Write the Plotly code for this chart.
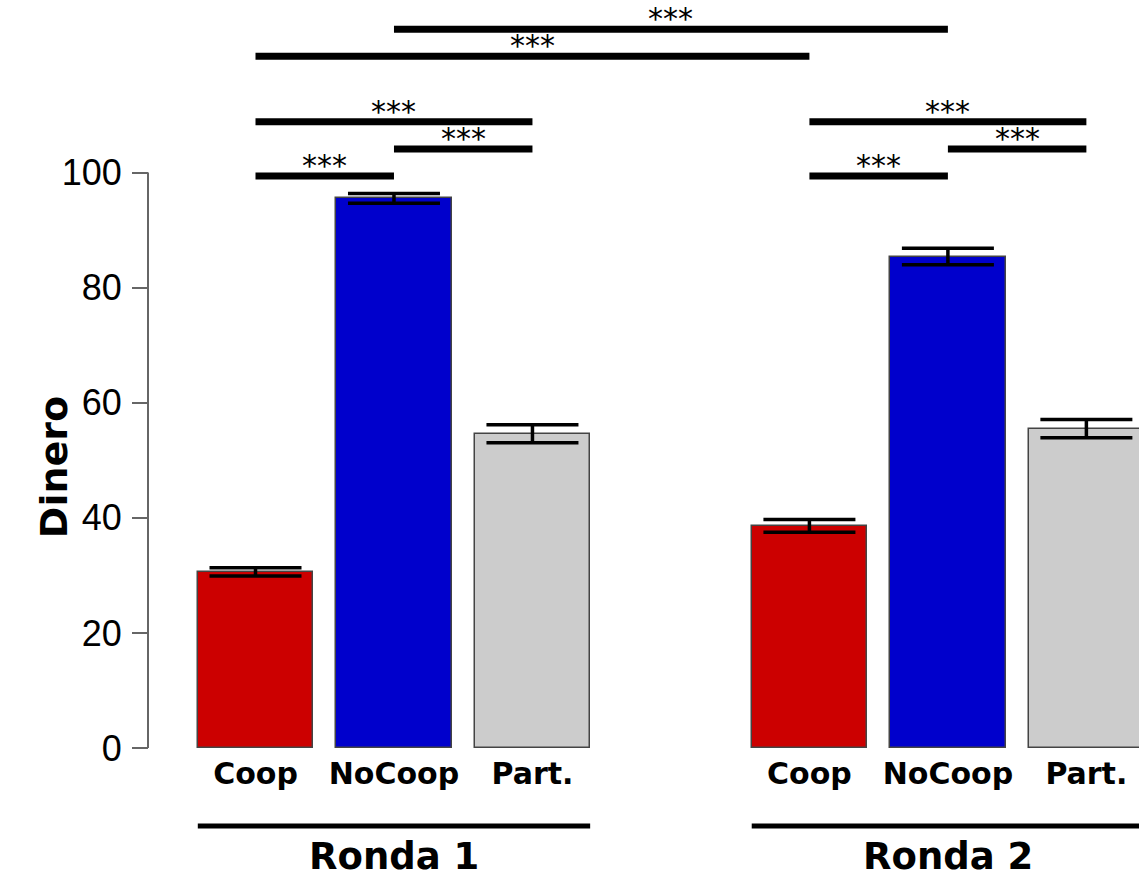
import plotly.graph_objects as go

# ---------------- data ----------------
categories = ["Coop", "NoCoop", "Part."]
rounds = ["Ronda 1", "Ronda 2"]
ronda1_means = [30.6, 95.5, 54.6]
ronda1_se = [0.7, 0.85, 1.55]
ronda2_means = [38.6, 85.4, 55.5]
ronda2_se = [1.1, 1.45, 1.6]
bar_colors = ["#CC0000", "#0000CC", "#CCCCCC"]
y_ticks = [0, 20, 40, 60, 80, 100]
y_label = "Dinero"
# significance comparisons: (bar index a, bar index b, label, height)
sig_bar_a = [0, 1, 0, 3, 4, 3, 0, 1]
sig_bar_b = [1, 2, 2, 4, 5, 5, 3, 4]
sig_labels = ["***"] * 8
sig_heights = [99.4, 104.1, 108.8, 99.4, 104.1, 108.8, 120.2, 124.9]

# ---------------- layout geometry (R barplot style) ----------------
BAR_W = 1.0
PITCH = 1.2
GROUP_OFF = 4.8
FIRST = 0.7
PX_PER_X = 115.4
PX_PER_Y = 5.755
W, H = 1139, 884
X0_PX, Y0_PX = 255.5, 748.0  # pixel of first bar centre / value 0

x_min = FIRST - X0_PX / PX_PER_X
x_max = FIRST + (W - X0_PX) / PX_PER_X
y_max = Y0_PX / PX_PER_Y
y_min = -(H - Y0_PX) / PX_PER_Y
yaxis_x = FIRST - (255.5 - 148) / PX_PER_X

means = [ronda1_means, ronda2_means]
ses = [ronda1_se, ronda2_se]
positions = []
fig = go.Figure()
for g, rnd in enumerate(rounds):
    xs = [FIRST + g * GROUP_OFF + i * PITCH for i in range(len(categories))]
    positions.extend(xs)
    fig.add_trace(go.Bar(
        x=xs, y=means[g], width=BAR_W,
        marker=dict(color=bar_colors, line=dict(color="#444444", width=1.5)),
        error_y=dict(type="data", array=ses[g], visible=True,
                     color="black", thickness=3.5, width=46),
        showlegend=False, hoverinfo="skip",
    ))
    # group underline + label
    left = xs[0] - BAR_W / 2
    right = xs[-1] + BAR_W / 2
    fig.add_shape(type="line", xref="x", yref="y", x0=left, x1=right,
                  y0=-13.55, y1=-13.55, line=dict(color="black", width=5))
    fig.add_annotation(x=xs[1], y=-18.9, xref="x", yref="y", text="<b>%s</b>" % rnd,
                       showarrow=False, yanchor="middle",
                       font=dict(family="DejaVu Sans", size=37, color="black"))

# y axis line (only 0..100)
fig.add_shape(type="line", xref="x", yref="y", x0=yaxis_x, x1=yaxis_x,
              y0=y_ticks[0], y1=y_ticks[-1], line=dict(color="#666666", width=2))

# significance bars
for a, b, lab, h in zip(sig_bar_a, sig_bar_b, sig_labels, sig_heights):
    xa, xb = positions[a], positions[b]
    fig.add_shape(type="line", xref="x", yref="y", x0=xa, x1=xb, y0=h, y1=h,
                  line=dict(color="black", width=7))
    fig.add_annotation(x=(xa + xb) / 2, y=h, xref="x", yref="y", text=lab,
                       showarrow=False, yanchor="bottom", yshift=-9,
                       font=dict(family="DejaVu Sans", size=30, color="black"))

# y label
fig.add_annotation(x=30 / W, y=48.8, xref="paper", yref="y", text="<b>%s</b>" % y_label,
                   textangle=-90, showarrow=False,
                   font=dict(family="DejaVu Sans", size=38, color="black"))

fig.update_layout(
    width=W, height=H, margin=dict(l=0, r=0, t=0, b=0),
    plot_bgcolor="white", paper_bgcolor="white", bargap=0,
    xaxis=dict(range=[x_min, x_max], domain=[0, 1], showgrid=False, zeroline=False,
               showline=False, ticks="", anchor="free", position=(H - Y0_PX) / H,
               tickmode="array", tickvals=positions, ticktext=["<b>%s</b>" % c for c in categories * 2],
               tickfont=dict(family="DejaVu Sans", size=30, color="black"),
               ticklabelstandoff=5),
    yaxis=dict(range=[y_min, y_max], domain=[0, 1], showgrid=False, zeroline=False,
               showline=False, anchor="free", position=148 / W,
               tickmode="array", tickvals=y_ticks, ticks="outside", ticklen=16,
               tickwidth=2, tickcolor="#666666",
               tickfont=dict(family="Liberation Sans", size=36, color="black"),
               ticklabelstandoff=3),
)

fig.write_html("out.html", config={"displayModeBar": False},
               post_script="document.body.style.margin='0';")
